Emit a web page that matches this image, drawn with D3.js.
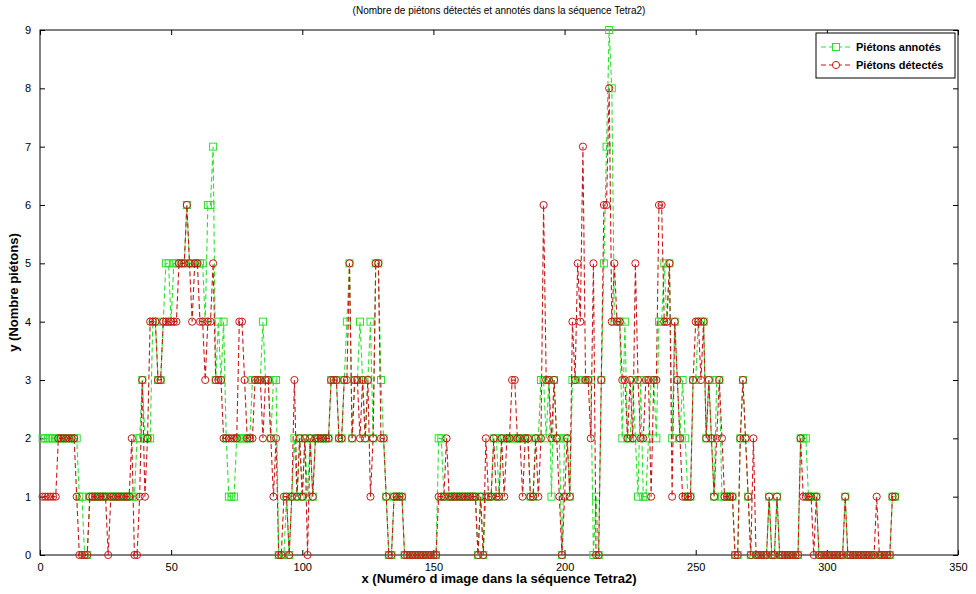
<!DOCTYPE html>
<html><head><meta charset="utf-8">
<script src="https://cdn.jsdelivr.net/npm/d3@7"></script>
<style>body{margin:0;background:#fff}svg{display:block}</style>
</head><body>
<script>
const titleText = "(Nombre de piétons détectés et annotés dans la séquence Tetra2)";
const xLabel = "x (Numéro d image dans la séquence Tetra2)";
const yLabel = "y (Nombre piétons)";
const seriesNames = ["Piétons annotés", "Piétons détectés"];
const xTicks = [0, 50, 100, 150, 200, 250, 300, 350];
const yTicks = [0, 1, 2, 3, 4, 5, 6, 7, 8, 9];
const firstFrame = 1;
const annotated = [
2,2,2,2,2,2,2,2,2,2, 2,2,2,2,1,1,0,0,1,1, 1,1,1,1,1,1,1,1,1,1, 1,1,1,1,1,1,2,2,3,2,
2,2,4,4,3,3,4,5,5,4, 5,5,5,5,5,6,5,5,5,5, 5,5,4,6,6,7,3,4,3,4, 2,1,1,1,2,2,2,2,2,2,
3,3,3,3,4,3,3,2,3,3, 0,0,0,1,0,1,2,1,2,1, 2,1,2,1,2,2,2,2,2,2, 3,3,3,2,2,3,4,5,2,3,
3,4,3,2,3,4,2,5,5,3, 2,1,0,0,1,1,1,1,0,0, 0,0,0,0,0,0,0,0,0,0, 0,2,2,1,1,1,1,1,1,1,
1,1,1,1,1,1,0,1,0,1, 1,1,2,2,1,2,2,2,2,2, 2,2,2,2,2,2,1,1,2,2, 3,3,2,3,1,3,2,2,0,2,
2,1,3,3,3,3,3,3,3,3, 0,1,0,3,5,7,9,8,4,4, 4,2,4,2,2,3,2,1,3,1, 1,2,3,3,2,4,4,5,4,5,
2,4,3,2,3,2,1,1,3,3, 4,4,4,2,3,2,1,3,3,1, 1,1,1,1,0,0,2,3,2,1, 0,0,0,0,0,0,0,1,0,0,
1,0,0,0,0,0,0,0,0,2, 2,2,1,1,1,1,0,0,0,0, 0,0,0,0,0,0,1,0,0,0, 0,0,0,0,0,0,0,0,0,0,
0,0,0,0,1,1];
const detected = [
1,1,1,1,1,1,2,2,2,2, 2,2,2,1,0,0,0,0,1,1, 1,1,1,1,1,0,1,1,1,1, 1,1,1,1,2,0,0,1,3,1,
2,4,4,4,3,3,4,4,4,4, 4,4,5,5,5,6,5,4,5,5, 4,4,3,4,4,5,3,3,3,2, 2,2,2,2,2,4,4,3,2,2,
2,3,3,3,2,3,3,2,1,2, 0,0,1,1,0,1,3,1,2,1, 2,0,2,1,2,2,2,2,2,2, 3,3,3,2,2,3,3,5,2,3,
3,2,3,2,3,1,2,5,5,2, 2,1,0,0,1,1,1,1,0,0, 0,0,0,0,0,0,0,0,0,0, 0,1,1,1,2,1,1,1,1,1,
1,1,1,1,1,1,0,1,0,2, 1,1,2,1,1,2,1,2,2,3, 3,2,2,1,2,2,1,1,2,1, 2,6,3,3,2,3,2,1,0,1,
2,1,4,3,5,4,7,3,3,2, 5,0,0,3,6,6,8,4,5,4, 4,3,3,2,3,2,5,3,2,2, 3,3,1,3,3,6,6,4,4,5,
1,4,3,2,1,1,1,1,3,4, 4,3,4,2,3,2,1,2,3,2, 1,1,1,1,0,0,2,3,2,1, 0,2,0,0,0,0,0,1,0,0,
1,0,0,0,0,0,0,0,0,2, 1,1,1,1,0,1,0,0,0,0, 0,0,0,0,0,0,1,0,0,0, 0,0,0,0,0,0,0,0,1,0,
0,0,0,0,1,1];

const W = 976, H = 594;
const m = {left: 40, right: 958, top: 30, bottom: 555};
const svg = d3.select("body").append("svg").attr("width", W).attr("height", H)
  .style("font-family", "Liberation Sans, Arial, sans-serif");

const x = d3.scaleLinear().domain([0, 350]).range([m.left, m.right]);
const y = d3.scaleLinear().domain([0, 9]).range([m.bottom, m.top]);

svg.append("rect").attr("x", m.left).attr("y", m.top)
  .attr("width", m.right - m.left).attr("height", m.bottom - m.top)
  .attr("fill", "#fff").attr("stroke", "#000").attr("stroke-width", 1);

const tl = 5;
const axB = svg.append("g").attr("transform", `translate(0,${m.bottom})`)
  .call(d3.axisBottom(x).tickValues(xTicks).tickSize(-tl).tickPadding(tl + 3));
const axT = svg.append("g").attr("transform", `translate(0,${m.top})`)
  .call(d3.axisTop(x).tickValues(xTicks).tickSize(-tl).tickFormat(""));
const axL = svg.append("g").attr("transform", `translate(${m.left},0)`)
  .call(d3.axisLeft(y).tickValues(yTicks).tickSize(-tl).tickPadding(tl + 4));
const axR = svg.append("g").attr("transform", `translate(${m.right},0)`)
  .call(d3.axisRight(y).tickValues(yTicks).tickSize(-tl).tickFormat(""));
[axB, axT, axL, axR].forEach(a => {
  a.select(".domain").remove();
  a.selectAll("line").attr("stroke", "#000");
  a.selectAll("text").attr("font-size", 11).attr("fill", "#000")
    .style("font-family", "Liberation Sans, Arial, sans-serif");
});

const series = [
  {name: seriesNames[0], vals: annotated, color: "#2ee02e", marker: "square"},
  {name: seriesNames[1], vals: detected, color: "#c81818", marker: "circle"}
];

const line = d3.line().x(d => x(d.f)).y(d => y(d.v));
series.forEach(s => {
  const pts = s.vals.map((v, i) => ({f: firstFrame + i, v}));
  const g = svg.append("g");
  g.append("path").datum(pts).attr("d", line).attr("fill", "none")
    .attr("stroke", s.color).attr("stroke-width", 1.1).attr("stroke-dasharray", "5,3");
  if (s.marker === "square") {
    g.selectAll("rect").data(pts).join("rect")
      .attr("x", d => x(d.f) - 3.5).attr("y", d => y(d.v) - 3.5)
      .attr("width", 7).attr("height", 7)
      .attr("fill", "none").attr("stroke", s.color).attr("stroke-width", 1);
  } else {
    g.selectAll("circle").data(pts).join("circle")
      .attr("cx", d => x(d.f)).attr("cy", d => y(d.v)).attr("r", 3.6)
      .attr("fill", "none").attr("stroke", s.color).attr("stroke-width", 1);
  }
});

svg.append("text").attr("x", (m.left + m.right) / 2).attr("y", 14)
  .attr("text-anchor", "middle").attr("font-size", 10).text(titleText);
svg.append("text").attr("x", (m.left + m.right) / 2).attr("y", 583)
  .attr("text-anchor", "middle").attr("font-size", 13).attr("font-weight", "bold").text(xLabel);
svg.append("text").attr("transform", `translate(18,${(m.top + m.bottom) / 2}) rotate(-90)`)
  .attr("text-anchor", "middle").attr("font-size", 13).attr("font-weight", "bold").text(yLabel);

const lg = svg.append("g").attr("transform", "translate(816,33)");
lg.append("rect").attr("width", 139).attr("height", 45).attr("fill", "#fff")
  .attr("stroke", "#000").attr("stroke-width", 1);
series.forEach((s, i) => {
  const yy = 14 + i * 18;
  lg.append("line").attr("x1", 5).attr("x2", 35).attr("y1", yy).attr("y2", yy)
    .attr("stroke", s.color).attr("stroke-dasharray", "5,3");
  if (s.marker === "square") {
    lg.append("rect").attr("x", 16.5).attr("y", yy - 3.5).attr("width", 7).attr("height", 7)
      .attr("fill", "#fff").attr("stroke", s.color);
  } else {
    lg.append("circle").attr("cx", 20).attr("cy", yy).attr("r", 3.6)
      .attr("fill", "#fff").attr("stroke", s.color);
  }
  lg.append("text").attr("x", 40).attr("y", yy + 4).attr("font-size", 11)
    .attr("font-weight", "bold").text(s.name);
});
</script>
</body></html>
